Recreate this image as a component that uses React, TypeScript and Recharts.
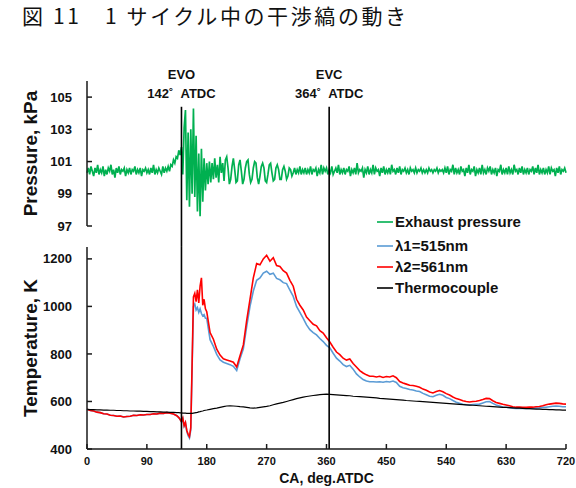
import { LineChart, Line, XAxis, YAxis, ReferenceLine, Legend } from 'recharts';

// exhaust pressure, kPa, one value every 2 deg CA (0..720)
const pressureStep = 2;
const pressure = [
  100.3, 100.6, 100.2, 100.7, 100.4, 100.1, 100.6, 100.3, 100.8, 100.2, 100.5, 100.3, 100.7, 100.1, 100.5,
  100.2, 100.6, 100.4, 100.8, 100.2, 100.5, 100.0, 100.6, 100.3, 100.7, 100.2, 100.5, 100.4, 100.6, 100.1,
  100.5, 100.3, 100.6, 100.2, 100.5, 100.4, 100.7, 100.2, 100.5, 100.3, 100.6, 100.1, 100.5, 100.4, 100.6,
  100.3, 100.5, 100.2, 100.6, 100.3, 100.8, 100.2, 100.5, 100.3, 100.6, 100.4, 100.2, 100.7, 100.3, 100.6,
  100.4, 100.7, 100.4, 100.8, 100.7, 101.1, 100.9, 101.3, 101.2, 101.7, 101.4, 101.9, 100.2, 103.1, 104.2,
  98.6, 102.8, 98.2, 103.0, 99.0, 104.3, 98.8, 102.6, 97.9, 101.5, 97.6, 101.8, 98.5, 101.2, 99.2,
  100.9, 99.6, 101.0, 99.7, 100.9, 99.9, 101.2, 100.0, 100.8, 99.7, 101.3, 100.3, 100.9, 99.8, 101.1,
  101.3, 100.6, 99.6, 99.9, 100.7, 101.2, 100.5, 99.7, 99.8, 100.8, 101.1, 100.4, 99.6, 99.9, 100.6,
  101.0, 101.1, 100.2, 99.7, 99.9, 100.6, 101.0, 100.9, 100.0, 99.6, 100.1, 100.7, 100.9, 100.6, 99.8,
  99.7, 100.2, 100.8, 100.9, 100.3, 99.8, 99.9, 100.6, 100.8, 100.5, 99.9, 99.9, 100.5, 100.7, 100.4,
  99.9, 100.1, 100.6, 100.5, 100.1, 100.3, 100.6, 100.2, 100.5, 100.3, 100.7, 100.2, 100.5, 100.3, 100.6,
  100.2, 100.5, 100.3, 100.7, 100.2, 100.5, 100.4, 100.6, 100.1, 100.5, 100.3, 100.8, 100.2, 100.6, 100.4,
  100.6, 100.2, 100.5, 100.3, 100.7, 100.2, 100.4, 100.6, 100.3, 100.8, 100.2, 100.5, 100.3, 100.6, 100.2,
  100.5, 100.4, 100.7, 100.1, 100.5, 100.3, 100.6, 100.2, 100.9, 100.3, 100.5, 100.4, 100.6, 100.0, 100.5,
  100.3, 100.7, 100.2, 100.5, 100.3, 100.8, 100.2, 100.6, 100.4, 100.5, 100.1, 100.6, 100.3, 100.7, 100.2,
  100.5, 100.3, 100.6, 100.2, 100.8, 100.4, 100.5, 100.2, 100.6, 100.3, 100.7, 100.2, 100.5, 100.4, 100.6,
  100.3, 100.5, 100.2, 100.6, 100.4, 100.5, 100.3, 100.6, 100.3, 100.5, 100.4, 100.6, 100.3, 100.5, 100.3,
  100.5, 100.3, 100.6, 100.4, 100.5, 100.3, 100.5, 100.4, 100.6, 100.3, 100.5, 100.4, 100.5, 100.3, 100.6,
  100.3, 100.7, 100.2, 100.5, 100.4, 100.8, 100.2, 100.6, 100.3, 100.5, 100.2, 100.7, 100.4, 100.5, 100.1,
  100.6, 100.3, 100.8, 100.2, 100.5, 100.4, 100.7, 100.1, 100.5, 100.3, 100.6, 100.2, 100.8, 100.3, 100.5,
  100.2, 100.6, 100.4, 100.7, 100.2, 100.5, 100.3, 100.6, 100.1, 100.5, 100.4, 100.8, 100.2, 100.5, 100.3,
  100.6, 100.2, 100.7, 100.3, 100.5, 100.2, 100.8, 100.4, 100.5, 100.2, 100.6, 100.3, 100.7, 100.2, 100.5,
  100.3, 100.6, 100.2, 100.5, 100.4, 100.7, 100.2, 100.6, 100.3, 100.8, 100.2, 100.5, 100.3, 100.6, 100.2,
  100.5, 100.3, 100.7, 100.2, 100.6, 100.4, 100.5, 100.1, 100.6, 100.3, 100.7, 100.2, 100.5, 100.4, 100.6,
  100.3,
];

// crank angles of the temperature traces
const tempCa = [
  0, 5, 10, 15, 20, 25, 30, 35, 40, 45, 50, 55, 60, 65, 70, 75, 80, 85, 90, 95, 100, 105, 110, 115, 120, 125, 130, 135,
  138, 140, 142, 144, 146, 148, 150, 152, 154, 156, 158, 160, 162, 164, 166, 168, 170, 172, 174, 176, 178,
  180, 185, 190, 195, 200, 205, 210, 215, 220, 225,
  230, 235, 240, 245, 250, 255, 260, 265, 270, 275,
  280, 285, 290, 295, 300, 305, 310, 315, 320, 325,
  330, 335, 340, 345, 350, 355, 360, 365, 370, 375,
  380, 385, 390, 395, 400, 405, 410, 415, 420, 425,
  430, 435, 440, 445, 450, 455, 460, 465, 470, 475,
  480, 485, 490, 495, 500, 505, 510, 515, 520, 525,
  530, 535, 540, 545, 550, 555, 560, 565, 570, 575,
  580, 585, 590, 595, 600, 605, 610, 615, 620, 625,
  630, 635, 640, 645, 650, 655, 660, 665, 670, 675,
  680, 685, 690, 695, 700, 705, 710, 715, 720,
];

// λ1 = 515 nm
const lambda1 = [
  567, 562, 560, 555, 553, 548, 547, 542, 541, 538, 539, 535, 537, 538, 542, 541, 544, 543, 545, 545, 548, 547, 551, 550, 553, 551, 547, 540,
  532, 524, 515, 528, 496, 510, 474, 456, 446, 480, 740, 1000, 1010, 985, 995, 975, 990, 970, 960, 965, 950,
  950, 860, 832, 798, 775, 765, 760, 755, 748, 730,
  780, 822, 915, 1000, 1065, 1110, 1120, 1140, 1148, 1135,
  1140, 1118, 1112, 1100, 1096, 1068, 1042, 1000, 975, 950,
  922, 902, 890, 880, 865, 852, 836, 826, 803, 782,
  770, 755, 747, 752, 736, 716, 703, 692, 686, 683,
  683, 682, 683, 681, 684, 682, 686, 680, 664, 658,
  655, 650, 648, 644, 642, 634, 628, 622, 620, 626,
  630, 626, 617, 612, 604, 597, 592, 588, 586, 585,
  587, 588, 589, 594, 599, 600, 592, 585, 581, 577,
  576, 574, 572, 571, 571, 571, 571, 572, 571, 572,
  573, 575, 576, 578, 580, 581, 580, 578, 578,
];

// λ2 = 561 nm
const lambda2 = [
  567, 562, 560, 555, 553, 548, 547, 542, 541, 538, 539, 535, 537, 538, 542, 541, 544, 543, 545, 545, 548, 547, 551, 550, 553, 551, 547, 540,
  532, 524, 515, 530, 498, 512, 478, 462, 452, 490, 760, 1040, 1055, 1020, 1070, 1015, 1085, 1120, 1005, 1030, 990,
  978, 890, 862, 820, 795, 780, 775, 770, 765, 745,
  792, 838, 940, 1030, 1120, 1180, 1175, 1200, 1215, 1190,
  1205, 1172, 1168, 1150, 1140, 1110, 1085, 1030, 1005, 985,
  955, 940, 925, 918, 898, 888, 868, 850, 828, 808,
  797, 782, 774, 779, 760, 745, 730, 720, 712, 706,
  706, 703, 706, 701, 705, 703, 708, 700, 684, 678,
  673, 668, 667, 664, 660, 652, 647, 640, 636, 642,
  646, 641, 633, 627, 619, 612, 608, 603, 600, 598,
  600, 601, 604, 608, 613, 612, 603, 596, 592, 588,
  585, 582, 578, 576, 576, 575, 575, 576, 576, 578,
  579, 582, 586, 589, 591, 593, 592, 590, 589,
];

const thermocouple = [
  567, 566, 566, 565, 565, 564, 564, 563, 563, 562, 562, 561, 561, 560, 560, 559, 559, 558, 558, 557, 557, 556, 556, 555, 555, 554, 554, 553,
  553, 552, 552, 551, 551, 551, 550, 550, 550, 550, 550, 551, 552, 553, 554, 556, 557, 559, 560, 562, 563,
  564, 567, 570, 572, 575, 578, 581, 582, 581, 580,
  578, 577, 575, 573, 572, 573, 575, 577, 579, 582,
  586, 590, 593, 596, 600, 604, 608, 612, 615, 618,
  621, 623, 625, 627, 629, 630, 631, 630, 629, 628,
  627, 626, 625, 624, 622, 621, 620, 619, 618, 617,
  616, 615, 613, 612, 611, 610, 609, 608, 607, 606,
  604, 603, 602, 601, 600, 599, 598, 597, 596, 595,
  594, 593, 592, 591, 590, 589, 588, 587, 586, 585,
  584, 583, 582, 581, 580, 579, 578, 577, 576, 575,
  575, 574, 573, 572, 572, 571, 570, 570, 569, 568,
  568, 567, 567, 566, 566, 565, 565, 564, 564,
];

const caTicks = [0, 90, 180, 270, 360, 450, 540, 630, 720];
const pressureTicks = [97, 99, 101, 103, 105];
const tempTicks = [400, 600, 800, 1000, 1200];

const events = [
  { name: 'EVO', ca: 142 },
  { name: 'EVC', ca: 364 },
];
// event line runs from here down into the temperature panel
const eventTop = 104.4;
const eventBottom = 95.7;

const legendItems = [
  { label: 'Exhaust pressure', color: '#00B050' },
  { label: 'λ1=515nm', color: '#5B9BD5' },
  { label: 'λ2=561nm', color: '#FF0000' },
  { label: 'Thermocouple', color: '#000000' },
];

const pressureRows = pressure.map((p, i) => ({ ca: i * pressureStep, p }));
const tempRows = tempCa.map((ca, i) => ({ ca, l1: lambda1[i], l2: lambda2[i], tc: thermocouple[i] }));

const axisStroke = { stroke: '#1a1a1a', strokeWidth: 1.5 };
const tickFont = { fontSize: 13, fontWeight: 700, fill: '#111' };

const EventLabel = ({ viewBox, name, ca }: any) => {
  if (!viewBox) return null;
  const { x, y } = viewBox;
  return (
    <g textAnchor="middle" fontSize={13} fontWeight={700} fill="#111">
      <text x={x} y={y - 32} dominantBaseline="central">{name}</text>
      <text x={x} y={y - 13} dominantBaseline="central">{`${ca}˚\u00a0\u00a0ATDC`}</text>
    </g>
  );
};

const renderLegend = () => (
  <div style={{ fontSize: 15, fontWeight: 700, color: '#111' }}>
    {legendItems.map((item, i) => (
      <div
        key={item.label}
        style={{ display: 'flex', alignItems: 'center', height: 21, marginBottom: i === 0 ? 3 : 0 }}
      >
        <svg width={18} height={4} style={{ display: 'block' }}>
          <line x1={0} y1={2} x2={16} y2={2} stroke={item.color} strokeWidth={1.6} />
        </svg>
        <span>{item.label}</span>
      </div>
    ))}
  </div>
);

const App = () => {
  return (
    <div
      style={{
        position: 'absolute',
        left: 0,
        top: 0,
        width: 576,
        height: 488,
        background: '#fff',
        fontFamily: '"Liberation Sans", Arial, sans-serif',
      }}
    >
      <div
        style={{
          position: 'absolute',
          left: 22,
          top: 0,
          fontFamily: '"Noto Sans CJK JP", sans-serif',
          fontSize: 21,
          lineHeight: '30px',
          letterSpacing: 2.6,
          color: '#111',
          whiteSpace: 'pre',
        }}
      >
        図 11　1 サイクル中の干渉縞の動き
      </div>

      <div style={{ position: 'absolute', left: 0, top: 0 }}>
        <LineChart width={576} height={250} data={pressureRows} margin={{ top: 81, right: 10, bottom: 24, left: 0 }}>
          <XAxis dataKey="ca" type="number" domain={[0, 720]} hide />
          <YAxis
            domain={[97, 106]}
            ticks={pressureTicks}
            allowDataOverflow
            width={87}
            tickSize={-5}
            tickMargin={20}
            axisLine={axisStroke}
            tickLine={axisStroke}
            tick={tickFont}
            label={{
              value: 'Pressure, kPa',
              angle: -90,
              position: 'insideLeft',
              offset: 30,
              style: { textAnchor: 'middle', fontSize: 19, fontWeight: 700, fill: '#111' },
            }}
          />
          <Line
            type="linear"
            dataKey="p"
            stroke="#00B050"
            strokeWidth={1.7}
            dot={false}
            isAnimationActive={false}
          />
          {events.map((e) => (
            <ReferenceLine
              key={e.name}
              segment={[
                { x: e.ca, y: eventTop },
                { x: e.ca, y: eventBottom },
              ]}
              ifOverflow="visible"
              stroke="#000"
              strokeWidth={1.6}
              label={<EventLabel name={e.name} ca={e.ca} />}
            />
          ))}
        </LineChart>
      </div>

      <div style={{ position: 'absolute', left: 0, top: 200 }}>
        <LineChart width={576} height={288} data={tempRows} margin={{ top: 47, right: 10, bottom: 0, left: 0 }}>
          <XAxis
            dataKey="ca"
            type="number"
            domain={[0, 720]}
            ticks={caTicks}
            interval={0}
            height={39}
            tickSize={-5}
            tickMargin={13}
            axisLine={axisStroke}
            tickLine={axisStroke}
            tick={{ fontSize: 11, fontWeight: 700, fill: '#111' }}
            label={{
              value: 'CA, deg.ATDC',
              position: 'insideBottom',
              offset: 5,
              style: { fontSize: 14, fontWeight: 700, fill: '#111' },
            }}
          />
          <YAxis
            domain={[400, 1250]}
            ticks={tempTicks}
            allowDataOverflow
            width={87}
            tickSize={-5}
            tickMargin={20}
            axisLine={axisStroke}
            tickLine={axisStroke}
            tick={tickFont}
            label={{
              value: 'Temperature, K',
              angle: -90,
              position: 'insideLeft',
              offset: 30,
              style: { textAnchor: 'middle', fontSize: 19, fontWeight: 700, fill: '#111' },
            }}
          />
          <Legend
            layout="vertical"
            align="center"
            verticalAlign="middle"
            content={renderLegend}
            wrapperStyle={{ left: 377, top: 11, width: 'auto', height: 'auto' }}
          />
          <Line
            type="linear"
            dataKey="l1"
            name="λ1=515nm"
            stroke="#5B9BD5"
            strokeWidth={1.6}
            dot={false}
            isAnimationActive={false}
          />
          <Line
            type="linear"
            dataKey="l2"
            name="λ2=561nm"
            stroke="#FF0000"
            strokeWidth={1.6}
            dot={false}
            isAnimationActive={false}
          />
          <Line
            type="linear"
            dataKey="tc"
            name="Thermocouple"
            stroke="#000"
            strokeWidth={1.2}
            dot={false}
            isAnimationActive={false}
          />
          {events.map((e) => (
            <ReferenceLine key={e.name} x={e.ca} stroke="#000" strokeWidth={1.6} />
          ))}
        </LineChart>
      </div>
    </div>
  );
};

export default App;
